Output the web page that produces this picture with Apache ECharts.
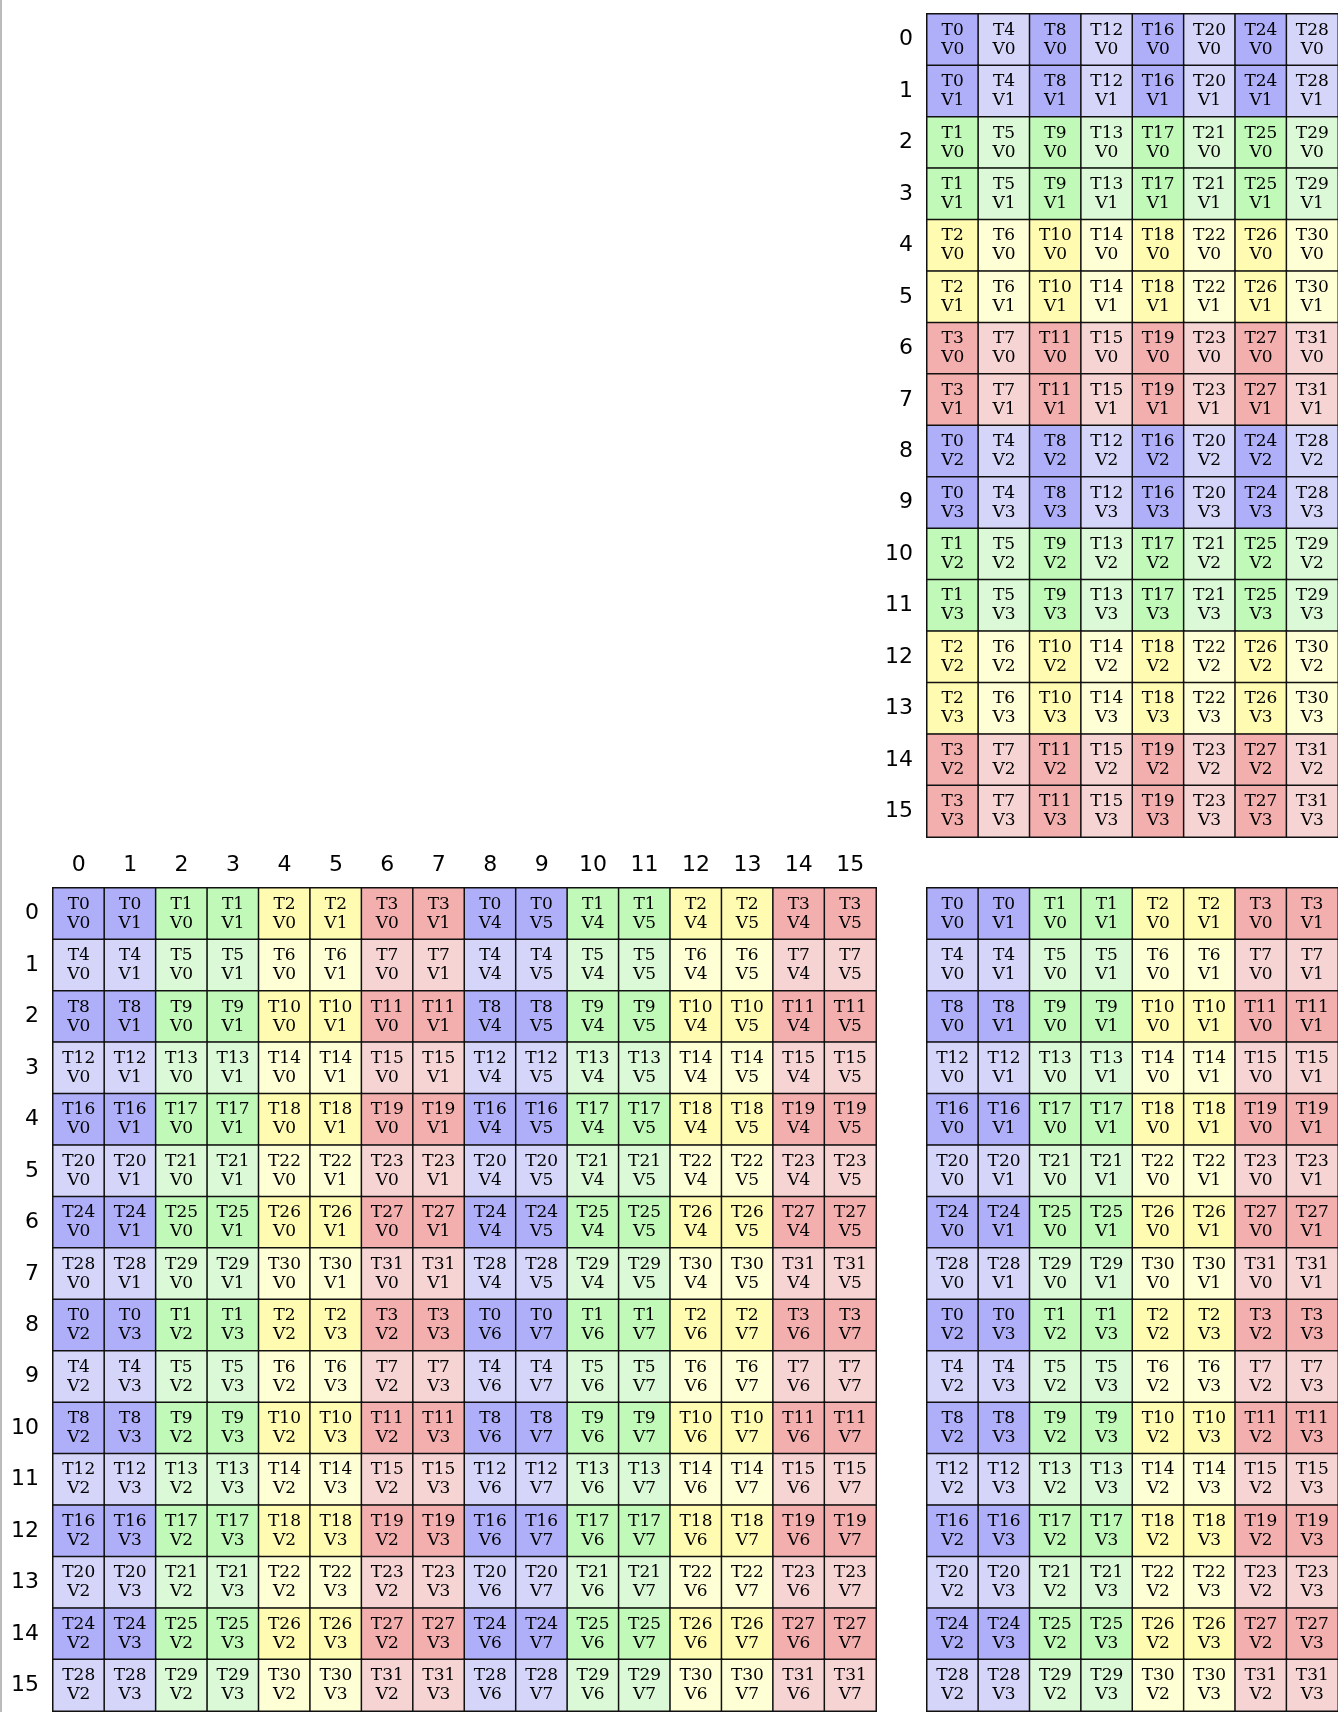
<!DOCTYPE html>
<html><head><meta charset="utf-8">
<script src="https://cdn.jsdelivr.net/npm/echarts@6/dist/echarts.min.js"></script>
<style>body{margin:0;background:#fff}#c{width:1338px;height:1712px}</style>
</head><body><div id="c"></div>
<script>
var idx16 = ['0','1','2','3','4','5','6','7','8','9','10','11','12','13','14','15'];
var idx8 = ['0','1','2','3','4','5','6','7'];
// colours per thread group (dark, light): blue, green, yellow, red
var darkColors = ['#afaff9', '#c0f9b8', '#fffbb0', '#f3aeae'];
var lightColors = ['#d5d5f9', '#dbf9d6', '#ffffd5', '#f7d4d4'];

// top-right: 16 rows x 8 cols
var topCells = [];
for (var r = 0; r < 16; r++) for (var c = 0; c < 8; c++) {
  topCells.push({t: 4 * c + Math.floor((r % 8) / 2), v: (r % 2) + 2 * Math.floor(r / 8),
    g: Math.floor((r % 8) / 2), dark: c % 2 === 0, x: c, y: r});
}
// bottom-left: 16 x 16
var leftCells = [];
for (var r = 0; r < 16; r++) for (var c = 0; c < 16; c++) {
  leftCells.push({t: 4 * (r % 8) + Math.floor((c % 8) / 2), v: (c % 2) + 2 * Math.floor(r / 8) + 4 * Math.floor(c / 8),
    g: Math.floor((c % 8) / 2), dark: r % 2 === 0, x: c, y: r});
}
// bottom-right: 16 x 8
var rightCells = [];
for (var r = 0; r < 16; r++) for (var c = 0; c < 8; c++) {
  rightCells.push({t: 4 * (r % 8) + Math.floor(c / 2), v: (c % 2) + 2 * Math.floor(r / 8),
    g: Math.floor(c / 2), dark: r % 2 === 0, x: c, y: r});
}

function toData(cells) {
  return cells.map(function (d) {
    return {value: [d.x, d.y, d.t], name: 'T' + d.t + '\nV' + d.v,
      itemStyle: {color: d.dark ? darkColors[d.g] : lightColors[d.g]}};
  });
}
function series(cells, i) {
  return {type: 'heatmap', xAxisIndex: i, yAxisIndex: i, data: toData(cells),
    itemStyle: {borderColor: '#111', borderWidth: 1.5},
    label: {show: true, formatter: function (p) { return p.name; },
      fontFamily: 'DejaVu Serif', fontSize: 17, lineHeight: 19, color: '#000'},
    emphasis: {disabled: true}};
}
var axLabel = {fontFamily: 'DejaVu Sans', fontSize: 22, color: '#000'};
function xAx(i, data, show) {
  return {type: 'category', gridIndex: i, data: data, position: 'top',
    axisLine: {show: false}, axisTick: {show: false}, splitArea: {show: false},
    axisLabel: Object.assign({show: show, margin: 12}, axLabel)};
}
function yAx(i, data, show) {
  return {type: 'category', gridIndex: i, data: data, inverse: true,
    axisLine: {show: false}, axisTick: {show: false},
    axisLabel: Object.assign({show: show, margin: 14}, axLabel)};
}

var chart = echarts.init(document.getElementById('c'));
chart.setOption({
  animation: false,
  grid: [
    {left: 927, top: 14, width: 411, height: 823},
    {left: 53, top: 888, width: 823, height: 823},
    {left: 927, top: 888, width: 411, height: 823}
  ],
  xAxis: [xAx(0, idx8, false), xAx(1, idx16, true), xAx(2, idx8, false)],
  yAxis: [yAx(0, idx16, true), yAx(1, idx16, true), yAx(2, idx16, false)],
  series: [series(topCells, 0), series(leftCells, 1), series(rightCells, 2)],
  graphic: [{type: 'rect', shape: {x: 0, y: 0, width: 2, height: 1712}, style: {fill: '#bbb'}}]
});
</script></body></html>
